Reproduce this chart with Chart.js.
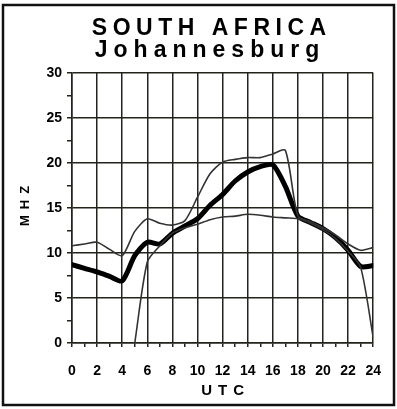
<!DOCTYPE html>
<html>
<head>
<meta charset="utf-8">
<script src="https://cdn.jsdelivr.net/npm/chart.js@4/dist/chart.umd.min.js"></script>
<style>
  html, body { margin: 0; padding: 0; background: #fff; }
  #wrap { position: relative; width: 397px; height: 409px; }
</style>
</head>
<body>
<div id="wrap"><canvas id="chart" width="397" height="409"></canvas></div>
<script>
// hours UTC, one value per hour
var hours = [0, 1, 2, 3, 4, 5, 6, 7, 8, 9, 10, 11, 12, 13, 14, 15, 16, 17, 18, 19, 20, 21, 22, 23, 24];

// MHz per hour
var upperMhz  = [10.8, 11.0, 11.2, 10.4, 9.7, 12.4, 13.8, 13.3, 13.1, 13.6, 16.2, 18.8, 20.1, 20.4, 20.6, 20.6, 21.0, 21.4, 14.1, 13.5, 12.8, 12.0, 11.0, 10.3, 10.6];
var medianMhz = [8.7, 8.3, 7.9, 7.4, 6.9, 9.7, 11.2, 11.0, 12.2, 13.0, 13.8, 15.3, 16.5, 18.0, 19.0, 19.6, 19.8, 17.4, 14.1, 13.4, 12.7, 11.7, 10.3, 8.5, 8.6];
var lowerMhz  = [null, null, null, null, null, 0, 9.0, 10.8, 12.2, 12.8, 13.2, 13.7, 14.0, 14.1, 14.3, 14.2, 14.0, 13.9, 13.8, 13.3, 12.6, 11.6, 10.2, 8.4, 0.6];

var xTicks = [0, 2, 4, 6, 8, 10, 12, 14, 16, 18, 20, 22, 24];
var yTicks = [0, 5, 10, 15, 20, 25, 30];

var titleLines = ["SOUTH AFRICA", "Johannesburg"];
var xTitle = "UTC";
var yTitle = "MHZ";

var FONT = "'Liberation Sans', Arial, sans-serif";
var GRID = "#23231c";

function series(values) {
  return hours.map(function (h, i) { return { x: h, y: values[i] }; });
}

// text with wide letter spacing, centred on x
function spacedText(ctx, text, x, y, font, spacing) {
  ctx.font = font;
  ctx.letterSpacing = spacing + "px";
  ctx.textAlign = "center";
  ctx.fillText(text, x + spacing / 2, y);
  ctx.letterSpacing = "0px";
}

var decorations = {
  id: "decorations",
  afterDraw: function (chart) {
    var ctx = chart.ctx;
    var area = chart.chartArea;
    ctx.save();
    ctx.strokeStyle = "#111";
    ctx.lineWidth = 2.5;
    ctx.strokeRect(3, 5, 391, 400);

    ctx.fillStyle = "#000";
    ctx.textBaseline = "alphabetic";
    spacedText(ctx, titleLines[0], 209, 35, "bold 23px " + FONT, 5.5);
    spacedText(ctx, titleLines[1], 207, 57, "bold 23px " + FONT, 6);
    spacedText(ctx, xTitle, (area.left + area.right) / 2, 395, "bold 15px " + FONT, 6);

    ctx.translate(29, 206);
    ctx.rotate(-Math.PI / 2);
    spacedText(ctx, yTitle, 0, 0, "bold 13px " + FONT, 6);
    ctx.restore();
  }
};

new Chart(document.getElementById("chart"), {
  type: "line",
  data: {
    datasets: [
      { label: "upper", data: series(upperMhz), borderColor: "#333", borderWidth: 1.6 },
      { label: "lower", data: series(lowerMhz), borderColor: "#333", borderWidth: 1.6, spanGaps: false },
      { label: "median", data: series(medianMhz), borderColor: "#000", borderWidth: 5 }
    ]
  },
  options: {
    responsive: false,
    animation: false,
    layout: { padding: { left: 0, top: 73, right: 22, bottom: 0 } },
    elements: {
      point: { radius: 0 },
      line: { tension: 0.25, borderJoinStyle: "round", borderCapStyle: "round", fill: false }
    },
    plugins: { legend: { display: false }, tooltip: { enabled: false }, title: { display: false } },
    scales: {
      x: {
        type: "linear",
        min: 0,
        max: 24,
        afterFit: function (scale) { scale.height = 66; },
        border: { display: true, color: GRID, width: 1.5 },
        grid: {
          color: function (c) { return xTicks.indexOf(c.tick.value) >= 0 ? GRID : "rgba(0,0,0,0)"; },
          tickColor: GRID,
          lineWidth: 1.5,
          tickLength: 4
        },
        ticks: {
          stepSize: 1,
          autoSkip: false,
          maxRotation: 0,
          padding: 16,
          color: "#000",
          font: { family: FONT, size: 14, weight: "bold" },
          callback: function (v) { return xTicks.indexOf(v) >= 0 ? String(v) : ""; }
        }
      },
      y: {
        min: 0,
        max: 30,
        afterFit: function (scale) { scale.width = 72; },
        border: { display: true, color: GRID, width: 1.5 },
        grid: {
          color: function (c) { return yTicks.indexOf(c.tick.value) >= 0 ? GRID : "rgba(0,0,0,0)"; },
          tickColor: GRID,
          lineWidth: 1.5,
          tickLength: 5
        },
        ticks: {
          stepSize: 2.5,
          autoSkip: false,
          padding: 5,
          color: "#000",
          font: { family: FONT, size: 14, weight: "bold" },
          callback: function (v) { return yTicks.indexOf(v) >= 0 ? String(v) : ""; }
        }
      }
    }
  },
  plugins: [decorations]
});
</script>
</body>
</html>
